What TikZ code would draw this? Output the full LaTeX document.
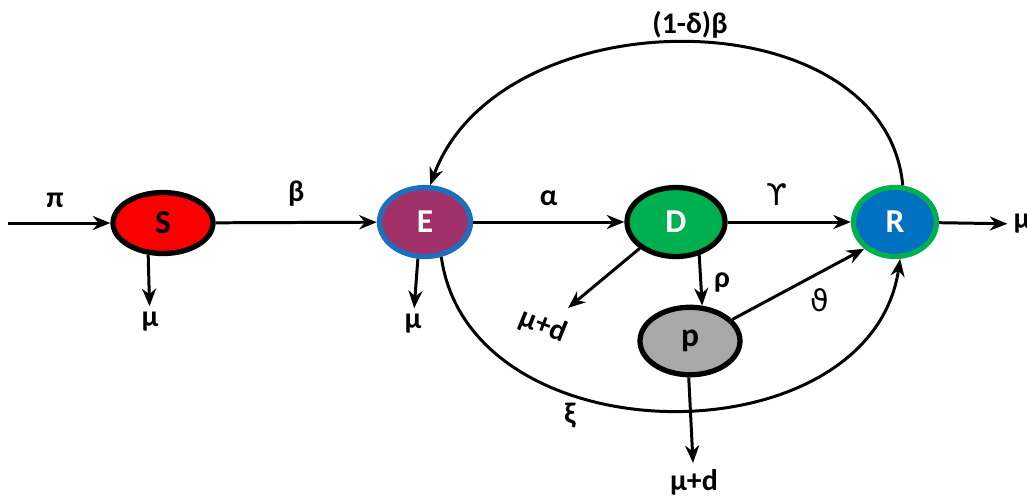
\documentclass[tikz,border=0pt]{standalone}
\usepackage{fontspec}
\setmainfont{Carlito}
\newfontfamily\grkfont{DejaVu Sans}
\usetikzlibrary{positioning}
\usetikzlibrary{shapes.geometric}
\usetikzlibrary{arrows.meta}
\definecolor{sfill}{RGB}{250,0,0}
\definecolor{efill}{RGB}{160,50,105}
\definecolor{eline}{RGB}{30,110,190}
\definecolor{dfill}{RGB}{0,176,80}
\definecolor{rfill}{RGB}{0,112,192}
\definecolor{pfill}{RGB}{168,168,168}
\begin{document}
\begin{tikzpicture}[x=0.2mm,y=-0.2mm,
    comp/.style={ellipse,draw,line width=3pt,inner sep=0pt,
      font=\bfseries\fontsize{19}{21}\selectfont},
    flow/.style={-{Stealth[length=10pt,width=8pt]},line width=1.7pt},
    lbl/.style={font=\bfseries\fontsize{17}{19}\selectfont}]
    \useasboundingbox (0,0) rectangle (1027,495);
    \node[comp,fill=sfill,minimum width=2cm,minimum height=1.22cm] (S) at (163,223) {S};
    \node[comp,fill=efill,draw=eline,text=white,minimum width=1.82cm,minimum height=1.38cm] (E) at (425,222) {E};
    \node[comp,fill=dfill,text=white,minimum width=1.96cm,minimum height=1.38cm] (D) at (676,222) {D};
    \node[comp,fill=rfill,draw=dfill,text=white,minimum width=1.66cm,minimum height=1.38cm] (R) at (895,222) {R};
    \node[comp,fill=pfill,minimum width=2cm,minimum height=1.35cm] (P) at (690,341) {p};
    \coordinate (src) at (8,223);
    \coordinate (dtip) at (568,308);
    \node[lbl] (piS) at (55,200) {π};
    \node[lbl] (muS) at (150,322) {μ};
    \node[lbl] (muE) at (413,324) {μ};
    \node[lbl] (muR) at (1022,224) {μ};
    \node[lbl,rotate=-22] (muD) at (543,326) {μ+d};
    \node[lbl] (muP) at (694,482) {μ+d};
    \node[lbl] (rho) at (722,282) {ρ};
    \node[lbl] (thetaP) at (820,300) {\grkfont\mdseries ϑ};
    \node[lbl] (xiE) at (570,416) {ξ};
    \node[lbl] (relapse) at (690,25) {(1-δ)β};
    \draw[flow] (src) -- (S);
    \draw[flow] (S) -- node[lbl,above=5pt] {β} (E);
    \draw[flow] (E) -- node[lbl,above=5pt] {α} (D);
    \draw[flow] (D) -- node[lbl,above=5pt,xshift=-7pt] {\grkfont\mdseries ϒ} (R);
    \draw[flow] (R) -- (muR);
    \draw[flow] (S.245) -- (muS);
    \draw[flow] (E.259) -- (muE);
    \draw[flow] (D.216) -- (dtip);
    \draw[flow] (D.-55) -- (P.71);
    \draw[flow] (P.27) -- (R.221);
    \draw[flow] (P.268) -- (muP);
    \draw[flow] (E.-65) .. controls (470,461) and (870,461) .. (R.-82);
    \draw[flow] (R.78) .. controls (885,-5) and (500,-5) .. (E.82);
\end{tikzpicture}
\end{document}
